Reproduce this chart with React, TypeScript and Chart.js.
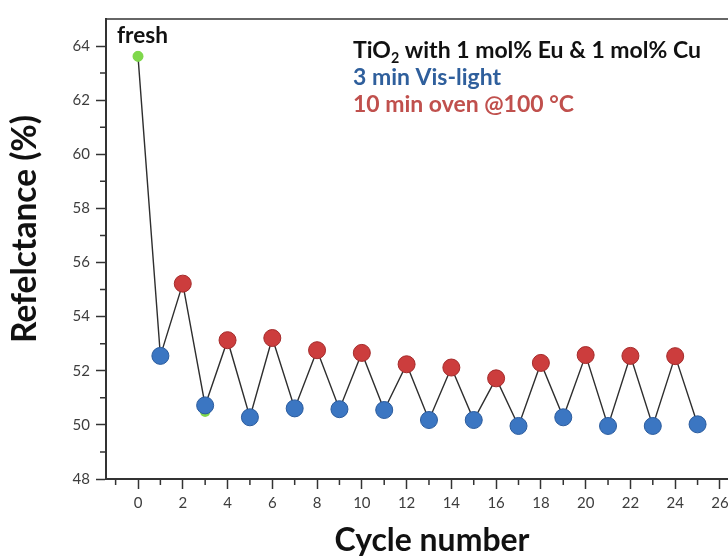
import React, { useEffect, useRef } from 'react';
import { Chart, registerables } from 'chart.js';

Chart.register(...registerables);

// ---- data ----
const cycles = [0, 1, 2, 3, 4, 5, 6, 7, 8, 9, 10, 11, 12, 13, 14, 15, 16, 17, 18, 19, 20, 21, 22, 23, 24, 25];
const reflectance = [63.62, 52.55, 55.22, 50.72, 53.13, 50.28, 53.21, 50.61, 52.76, 50.58, 52.66, 50.55, 52.24, 50.18, 52.12, 50.18, 51.72, 49.96, 52.29, 50.28, 52.58, 49.96, 52.55, 49.96, 52.54, 50.02];
const freshCycles = [0, 3];
const freshValues = [63.62, 50.48];

const xMajorTicks = [0, 2, 4, 6, 8, 10, 12, 14, 16, 18, 20, 22, 24, 26];
const xMinorTicks = [-1, 1, 3, 5, 7, 9, 11, 13, 15, 17, 19, 21, 23, 25];
const yMajorTicks = [48, 50, 52, 54, 56, 58, 60, 62, 64];
const yMinorTicks = [49, 51, 53, 55, 57, 59, 61, 63];

const xTitle = 'Cycle number';
const yTitle = 'Refelctance (%)';
const freshLabel = 'fresh';
const noteLine1 = ['TiO', '2', ' with 1 mol% Eu & 1 mol% Cu'];
const noteLine2 = '3 min Vis-light';
const noteLine3 = '10 min oven @100 °C';

const FONT = 'Lato, "Open Sans", sans-serif';
const AXIS = '#333333';
const BLUE = '#3b76c2';
const BLUE_EDGE = '#2b5c9e';
const RED = '#cc3d3d';
const RED_EDGE = '#a52b2b';
const GREEN = '#7fd84c';

function fitSize(ctx: CanvasRenderingContext2D, text: string, width: number, weight: string) {
  ctx.font = `${weight} 100px ${FONT}`;
  const w = ctx.measureText(text).width;
  return (100 * width) / w;
}

const decorPlugin = {
  id: 'decor',
  beforeDraw(chart: any) {
    const ctx = chart.ctx;
    ctx.save();
    ctx.fillStyle = '#ffffff';
    ctx.fillRect(0, 0, chart.width, chart.height);
    ctx.restore();
  },
  afterDraw(chart: any) {
    const ctx: CanvasRenderingContext2D = chart.ctx;
    const area = chart.chartArea;
    const xs = chart.scales.x;
    const ys = chart.scales.y;
    ctx.save();
    // top frame
    ctx.strokeStyle = AXIS;
    ctx.lineWidth = 1.5;
    ctx.beginPath();
    ctx.moveTo(area.left, area.top);
    ctx.lineTo(area.right + 2, area.top);
    ctx.stroke();
    // minor ticks
    ctx.lineWidth = 1.5;
    ctx.beginPath();
    for (const v of xMinorTicks) {
      const px = xs.getPixelForValue(v);
      ctx.moveTo(px, area.bottom);
      ctx.lineTo(px, area.bottom + 6);
    }
    for (const v of yMinorTicks) {
      const py = ys.getPixelForValue(v);
      ctx.moveTo(area.left, py);
      ctx.lineTo(area.left - 6, py);
    }
    ctx.stroke();

    // axis titles
    ctx.fillStyle = '#111111';
    let s = fitSize(ctx, xTitle, 195, 'bold');
    ctx.font = `bold ${s}px ${FONT}`;
    ctx.textAlign = 'center';
    ctx.textBaseline = 'alphabetic';
    ctx.fillText(xTitle, 432, 551);

    s = fitSize(ctx, yTitle, 228, 'bold');
    ctx.save();
    ctx.translate(36, 229);
    ctx.rotate(-Math.PI / 2);
    ctx.font = `bold ${s}px ${FONT}`;
    ctx.textAlign = 'center';
    ctx.fillText(yTitle, 0, 0);
    ctx.restore();

    // fresh label
    ctx.textAlign = 'left';
    s = fitSize(ctx, freshLabel, 51, 'bold');
    ctx.font = `bold ${s}px ${FONT}`;
    ctx.fillStyle = '#111111';
    ctx.fillText(freshLabel, 117, 43);

    // note line 1 with subscript
    ctx.font = `bold 100px ${FONT}`;
    const w0 = ctx.measureText(noteLine1[0]).width;
    const w2 = ctx.measureText(noteLine1[2]).width;
    ctx.font = `bold 62px ${FONT}`;
    const w1 = ctx.measureText(noteLine1[1]).width;
    const k = 348 / (w0 + w1 + w2);
    const base = 100 * k;
    let x = 353;
    ctx.fillStyle = '#111111';
    ctx.font = `bold ${base}px ${FONT}`;
    ctx.fillText(noteLine1[0], x, 57.5);
    x += w0 * k;
    ctx.font = `bold ${base * 0.62}px ${FONT}`;
    ctx.fillText(noteLine1[1], x, 57.5 + base * 0.22);
    x += w1 * k;
    ctx.font = `bold ${base}px ${FONT}`;
    ctx.fillText(noteLine1[2], x, 57.5);

    s = fitSize(ctx, noteLine2, 148, 'bold');
    ctx.font = `bold ${s}px ${FONT}`;
    ctx.fillStyle = '#2f5f9c';
    ctx.fillText(noteLine2, 353, 84.5);

    s = fitSize(ctx, noteLine3, 221, 'bold');
    ctx.font = `bold ${s}px ${FONT}`;
    ctx.fillStyle = '#c0504d';
    ctx.fillText(noteLine3, 353, 111.5);
    ctx.restore();
  },
};

export default function App() {
  const ref = useRef<HTMLCanvasElement | null>(null);
  useEffect(() => {
    if (!ref.current) return;
    const mainData = cycles.map((c, i) => ({ x: c, y: reflectance[i] }));
    const greenData = freshCycles.map((c, i) => ({ x: c, y: freshValues[i] }));
    const colorFor = (i: number) => (i === 0 ? GREEN : i % 2 === 1 ? BLUE : RED);
    const edgeFor = (i: number) => (i === 0 ? GREEN : i % 2 === 1 ? BLUE_EDGE : RED_EDGE);
    const chart = new Chart(ref.current, {
      type: 'line',
      data: {
        datasets: [
          {
            data: mainData,
            order: 0,
            borderColor: '#2e2e2e',
            borderWidth: 1.4,
            tension: 0,
            pointRadius: (c: any) => (c.dataIndex === 0 ? 5 : 8.5),
            pointBackgroundColor: (c: any) => colorFor(c.dataIndex),
            pointBorderColor: (c: any) => edgeFor(c.dataIndex),
            pointBorderWidth: 1,
            clip: false,
          } as any,
          {
            data: greenData,
            order: 1,
            showLine: false,
            pointRadius: 5,
            pointBackgroundColor: GREEN,
            pointBorderColor: GREEN,
            pointBorderWidth: 0,
            clip: false,
          } as any,
        ],
      },
      options: {
        responsive: false,
        animation: false,
        events: [],
        layout: { autoPadding: false, padding: { top: 19, right: 0, left: 0, bottom: 0 } },
        plugins: { legend: { display: false }, tooltip: { enabled: false } },
        scales: {
          x: {
            type: 'linear',
            min: -1.43,
            max: 26.36,
            afterFit: (s: any) => {
              s.height = 78;
              s.paddingLeft = 0;
              s.paddingRight = 0;
            },
            afterBuildTicks: (s: any) => {
              s.ticks = xMajorTicks.map((v) => ({ value: v }));
            },
            border: { display: true, color: AXIS, width: 2 },
            grid: { display: true, drawOnChartArea: false, drawTicks: true, tickLength: 10, tickColor: AXIS, tickWidth: 1.5 },
            ticks: {
              color: '#3d3d3d',
              font: { family: FONT, size: 15 },
              padding: 5,
              maxRotation: 0,
              autoSkip: false,
            },
          },
          y: {
            type: 'linear',
            min: 48,
            max: 65,
            afterFit: (s: any) => {
              s.width = 106;
              s.paddingTop = 0;
              s.paddingBottom = 0;
            },
            afterBuildTicks: (s: any) => {
              s.ticks = yMajorTicks.map((v) => ({ value: v }));
            },
            border: { display: true, color: AXIS, width: 2 },
            grid: { display: true, drawOnChartArea: false, drawTicks: true, tickLength: 10, tickColor: AXIS, tickWidth: 1.5 },
            ticks: {
              color: '#3d3d3d',
              font: { family: FONT, size: 15 },
              padding: 6,
              autoSkip: false,
            },
          },
        },
      },
      plugins: [decorPlugin],
    } as any);
    return () => chart.destroy();
  }, []);
  return (
    <div style={{ position: 'fixed', left: 0, top: 0, width: 728, height: 557, overflow: 'hidden', background: '#fff' }}>
      <canvas ref={ref} width={728} height={557} style={{ width: 728, height: 557, display: 'block' }} />
    </div>
  );
}
